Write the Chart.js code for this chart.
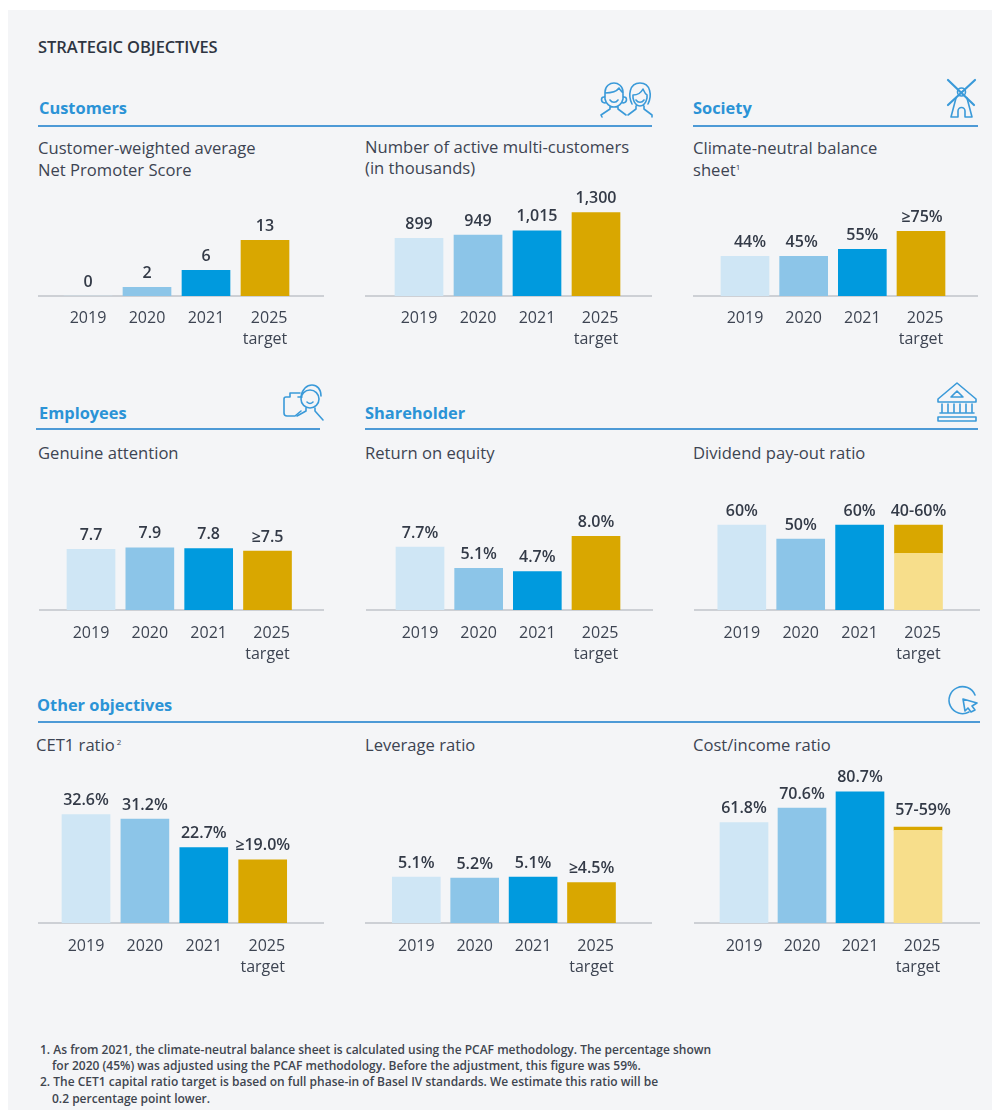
<!DOCTYPE html>
<html>
<head>
<meta charset="utf-8">
<title>Strategic objectives</title>
<script src="https://cdn.jsdelivr.net/npm/chart.js@4/dist/chart.umd.min.js"></script>
<style>
  html, body { margin: 0; padding: 0; background: #fff; }
  body { width: 992px; height: 1110px; overflow: hidden; position: relative; font-family: "Open Sans", sans-serif; color: #3d4452; }
  #panel { position: absolute; left: 8px; top: 10px; width: 984px; height: 1100px; background: #f4f5f7; }
  canvas { position: absolute; }
  svg { position: absolute; left: 0; top: 0; }
  .txt { position: absolute; white-space: nowrap; transform: translateY(-50%); line-height: 1; }
  .main { font-size: 16.5px; font-weight: 600; color: #2e3542; letter-spacing: -0.1px; }
  .head { font-size: 16.4px; font-weight: 700; color: #2b93d6; }
  .sub { font-size: 16.6px; }
  .sub sup { font-size: 8px; vertical-align: 6px; line-height: 0; }
  .rule { position: absolute; height: 2px; background: #4d9ad6; }
  .note { font-size: 12px; font-weight: 600; color: #40454f; }
</style>
</head>
<body>
<div id="panel"></div>
<div id="texts"></div>
<svg width="992" height="1110" fill="none" stroke="#3a9ad9" stroke-width="1.6" stroke-linecap="round" stroke-linejoin="round">
  <!-- customers -->
  <path d="M604 97c-3 0-4 5 1 6M624 97c3 0 4 5-1 6M605 92c0-6 5-9 9-9s9 3 9 9v7c-1 5-5 8-9 8s-8-3-9-8zM605 93c6 0 12-2 14-5 1 2 3 4 4 5M610 100c2 3 6 3 8 0M610 106v3l-9 6 1 2M618 106v3l8 6"/>
  <path d="M632 104c-4-8-3-21 8-21s12 13 8 21M633 95c4 0 8-2 10-6 1 2 2 5 4 6v3c-1 5-4 8-7 8s-6-3-7-8zM636 100c2 3 6 3 8 0M636 106v3l-8 6M644 106v3l8 6 0 2"/>
  <!-- society -->
  <path stroke-width="2.2" d="M948 80l26 25M975 80l-27 25"/>
  <circle cx="961.5" cy="92" r="4"/>
  <path d="M956 98l-5 19h7v-6a3.5 3.5 0 0 1 7 0v6h7l-5-19"/>
  <!-- employees -->
  <path d="M290 397h-4a2 2 0 0 0-2 2v14a3 3 0 0 0 3 3h8l6-5M290 397v-4h10M298 397h4"/>
  <circle cx="310" cy="399" r="9"/><path d="M301 397c1-8 6-12 11-12s9 4 9 11M307 402c2 2 4 2 6 0M306 408v3l-9 5M315 408v3l8 9"/>
  <!-- shareholder -->
  <path d="M957 383l19 16v3h-38v-3zM951 397h12l-6-6zM942 404v8M948 404v8M954 404v8M960 404v8M966 404v8M972 404v8M940 413h34M938 417h38v4h-38z"/>
  <!-- other -->
  <path d="M975 695a13.5 13.5 0 1 0-6 17"/><path d="M963 699l14 4-5 3 3 4-4 2-3-4-3 3z"/>
</svg>
<canvas id="c1"></canvas><canvas id="c2"></canvas><canvas id="c3"></canvas>
<canvas id="c4"></canvas><canvas id="c5"></canvas><canvas id="c6"></canvas>
<canvas id="c7"></canvas><canvas id="c8"></canvas><canvas id="c9"></canvas>
<script>
// ----------------------------------------------------------
// data
const years = ["2019", "2020", "2021", ["  2025", "target"]];

// bar values are what the bars show against their own scale, printed text is kept apart
const npsValues = [0, 2, 6, 13];
const npsLabels = ["0", "2", "6", "13"];

const multiValues = [899, 949, 1015, 1300];
const multiLabels = ["899", "949", "1,015", "1,300"];

const climateValues = [46, 46, 54, 75];
const climateLabels = ["44%", "45%", "55%", "≥75%"];

const attentionValues = [7.7, 7.9, 7.8, 7.5];
const attentionLabels = ["7.7", "7.9", "7.8", "≥7.5"];

const roeValues = [7.7, 5.1, 4.7, 9.0];
const roeLabels = ["7.7%", "5.1%", "4.7%", "8.0%"];

const dividendValues = [60, 50, 60, 40];
const dividendRange = [null, null, null, 20];
const dividendLabels = ["60%", "50%", "60%", "40-60%"];

const cetValues = [32.6, 31.2, 22.7, 19.0];
const cetLabels = ["32.6%", "31.2%", "22.7%", "≥19.0%"];

const leverageValues = [5.1, 5.0, 5.1, 4.5];
const leverageLabels = ["5.1%", "5.2%", "5.1%", "≥4.5%"];

const costValues = [61.8, 70.6, 80.7, 57];
const costRange = [null, null, null, 2];
const costLabels = ["61.8%", "70.6%", "80.7%", "57-59%"];

// ----------------------------------------------------------
// colours
const barColors = ["#cfe6f5", "#8cc5e8", "#009ade", "#d9a700"];
const rangeBaseColors = ["#cfe6f5", "#8cc5e8", "#009ade", "#f7de8b"];
const rangeTopColor = "#d9a700";

// ----------------------------------------------------------
// page text: [text, class, left, centre y]
const pageTexts = [
  ["STRATEGIC OBJECTIVES", "main", 38, 47],
  ["Customers", "head", 39, 108],
  ["Society", "head", 693, 108],
  ["Employees", "head", 39, 413],
  ["Shareholder", "head", 365, 413],
  ["Other objectives", "head", 37, 705],
  ["Customer-weighted average", "sub", 38, 148],
  ["Net Promoter Score", "sub", 38, 170],
  ["Number of active multi-customers", "sub", 365, 146.5],
  ["(in thousands)", "sub", 365, 168],
  ["Climate-neutral balance", "sub", 693, 148],
  ["sheet<sup>1</sup>", "sub", 693, 170],
  ["Genuine attention", "sub", 38, 452.5],
  ["Return on equity", "sub", 365, 452.5],
  ["Dividend pay-out ratio", "sub", 693, 452.5],
  ["CET1 ratio<sup> 2</sup>", "sub", 36, 745],
  ["Leverage ratio", "sub", 365, 745],
  ["Cost/income ratio", "sub", 693, 745],
  ["1. As from 2021, the climate-neutral balance sheet is calculated using the PCAF methodology. The percentage shown", "note", 40, 1050],
  ["for 2020 (45%) was adjusted using the PCAF methodology. Before the adjustment, this figure was 59%.", "note", 52, 1066],
  ["2. The CET1 capital ratio target is based on full phase-in of Basel IV standards. We estimate this ratio will be", "note", 40, 1082],
  ["0.2 percentage point lower.", "note", 52, 1099],
];

// section rules: [left, right, y]
const rules = [
  [38, 652, 125], [693, 978, 125],
  [36, 320, 428], [365, 978, 428],
  [38, 980, 721],
];

// ----------------------------------------------------------
const textBox = document.getElementById("texts");
pageTexts.forEach(([text, cls, left, y]) => {
  const el = document.createElement("div");
  el.className = "txt " + cls;
  el.style.left = left + "px";
  el.style.top = y + "px";
  el.innerHTML = text;
  textBox.appendChild(el);
});
rules.forEach(([left, right, y]) => {
  const el = document.createElement("div");
  el.className = "rule";
  el.style.left = left + "px";
  el.style.width = right - left + "px";
  el.style.top = y + "px";
  textBox.appendChild(el);
});

// ----------------------------------------------------------
// chart.js has no value labels of its own, so a small plugin prints them
const valueLabelPlugin = {
  id: "valueLabels",
  afterDatasetsDraw(chart, args, opts) {
    const { ctx, scales } = chart;
    ctx.save();
    ctx.font = '600 16px "Open Sans"';
    ctx.fillStyle = "#333a47";
    ctx.textAlign = "center";
    ctx.textBaseline = "middle";
    opts.labels.forEach((label, i) => {
      let total = 0;
      chart.data.datasets.forEach((ds) => {
        if (ds.data[i] && ds.data[i].y != null) total += ds.data[i].y;
      });
      const dx = (opts.nudgeX && opts.nudgeX[i]) || 0;
      const dy = (opts.nudgeY && opts.nudgeY[i]) || 0;
      ctx.fillText(label, scales.x.getPixelForValue(i) + dx, scales.y.getPixelForValue(total) - 14 + dy);
    });
    ctx.restore();
  },
};

// ----------------------------------------------------------
const plotHeight = 170;
const belowAxis = 62;

function toPoints(values) {
  return values.map((v, i) => ({ x: i, y: v }));
}

function makeChart(id, box, values, labels, colors, range, nudgeX, nudgeY) {
  const canvas = document.getElementById(id);
  canvas.width = box.right - box.left;
  canvas.height = plotHeight + belowAxis;
  canvas.style.left = box.left + "px";
  canvas.style.top = box.baseline - plotHeight + "px";

  const step = (box.last - box.first) / 3;
  const xMin = -(box.first - box.left) / step;
  const xMax = xMin + (box.right - box.left) / step;

  const datasets = [{ data: toPoints(values), backgroundColor: colors, barThickness: 48 }];
  if (range) {
    datasets.push({ data: toPoints(range), backgroundColor: rangeTopColor, barThickness: 48 });
  }

  return new Chart(canvas, {
    type: "bar",
    data: { datasets },
    plugins: [valueLabelPlugin],
    options: {
      responsive: false,
      animation: false,
      layout: { padding: 0 },
      plugins: {
        legend: { display: false },
        tooltip: { enabled: false },
        valueLabels: { labels, nudgeX, nudgeY },
      },
      scales: {
        x: {
          type: "linear",
          stacked: true,
          offset: false,
          min: xMin,
          max: xMax,
          afterBuildTicks(scale) {
            scale.ticks = years.map((y, i) => ({ value: i }));
          },
          afterFit(scale) {
            scale.height = belowAxis;
          },
          grid: { display: false, offset: false },
          border: { color: "#cdd0d5", width: 2 },
          ticks: {
            autoSkip: false,
            maxRotation: 0,
            padding: box.tickPad || 4.5,
            color: "#3d4452",
            font: { family: "Open Sans", size: 16, lineHeight: 1.35 },
            callback: (v) => years[v],
          },
        },
        y: { display: false, stacked: true, min: 0, max: box.yMax },
      },
    },
  });
}

// ----------------------------------------------------------
makeChart("c1", { left: 38, right: 324, baseline: 296, first: 88, last: 265, yMax: 39.7, tickPad: 3.5 }, npsValues, npsLabels, barColors);
makeChart("c2", { left: 365, right: 652, baseline: 296, first: 419, last: 596, yMax: 2648, tickPad: 3.5 }, multiValues, multiLabels, barColors);
makeChart("c3", { left: 693, right: 978, baseline: 296, first: 745, last: 921, yMax: 197, tickPad: 3.5 }, climateValues, climateLabels, barColors, null, [5, -2, 0, 1]);
makeChart("c4", { left: 39, right: 324, baseline: 610, first: 91, last: 267.5, yMax: 21.6 }, attentionValues, attentionLabels, barColors);
makeChart("c5", { left: 366, right: 653, baseline: 610, first: 420, last: 596, yMax: 20.8 }, roeValues, roeLabels, barColors);
makeChart("c6", { left: 694, right: 980, baseline: 610, first: 741.8, last: 918.5, yMax: 120 }, dividendValues, dividendLabels, rangeBaseColors, dividendRange);
makeChart("c7", { left: 38, right: 324, baseline: 923, first: 86, last: 262.7, yMax: 51.1 }, cetValues, cetLabels, barColors);
makeChart("c8", { left: 365, right: 652, baseline: 923, first: 416.3, last: 591.5, yMax: 18.93 }, leverageValues, leverageLabels, barColors);
makeChart("c9", { left: 694, right: 980, baseline: 923, first: 744, last: 918, yMax: 104.5 }, costValues, costLabels, rangeBaseColors, costRange, [0, 0, 0, 5], [0, 0, 0, -3]);
</script>
</body>
</html>
